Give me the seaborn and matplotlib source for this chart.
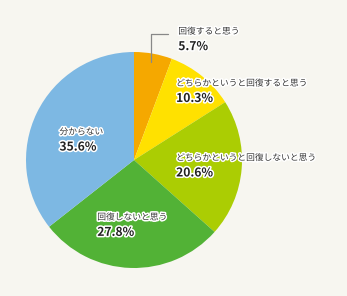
import matplotlib
matplotlib.use("Agg")
import matplotlib.pyplot as plt
import matplotlib.patheffects as pe
import seaborn as sns

sns.set_style("white")
plt.rcParams['font.family'] = ['Noto Sans CJK JP', 'DejaVu Sans']

# data
labels = ["回復すると思う", "どちらかというと回復すると思う", "どちらかというと回復しないと思う",
          "回復しないと思う", "分からない"]
values = [5.7, 10.3, 20.6, 27.8, 35.6]
colors = ["#f5a800", "#ffe100", "#abcd03", "#52b236", "#7db8e3"]

# label anchors (axes data units, pie radius = 1)
label_x = [0.41, 0.39, 0.39, -0.34, -0.69]
label_y = [1.19, 0.71, 0.02, -0.53, 0.26]

bg = "#f7f6f0"
fig = plt.figure(figsize=(3.47, 2.96), dpi=100, facecolor=bg)
ax = fig.add_axes([26 / 347, 28 / 296, 216 / 347, 216 / 296])
ax.set_facecolor(bg)

ax.pie(values, colors=colors, startangle=90, counterclock=False, radius=1,
       wedgeprops=dict(linewidth=0))
ax.set_xlim(-1, 1)
ax.set_ylim(-1, 1)
ax.set_aspect("equal")
ax.axis("off")

stroke = [pe.withStroke(linewidth=2.2, foreground="white")]
for name, v, x, y in zip(labels, values, label_x, label_y):
    ax.text(x, y, name, fontsize=6.3, color="#333333", va="center", ha="left",
            path_effects=stroke, clip_on=False)
    ax.text(x, y - 0.14, f"{v}%", fontsize=8.7, fontweight="bold", color="#222222",
            va="center", ha="left", path_effects=stroke, clip_on=False)

# leader line for the small slice
ax.plot([0.157, 0.157, 0.315], [0.91, 1.167, 1.167], color="#888888", lw=0.9,
        clip_on=False)

fig.savefig("out.png", dpi=100, facecolor=bg)
